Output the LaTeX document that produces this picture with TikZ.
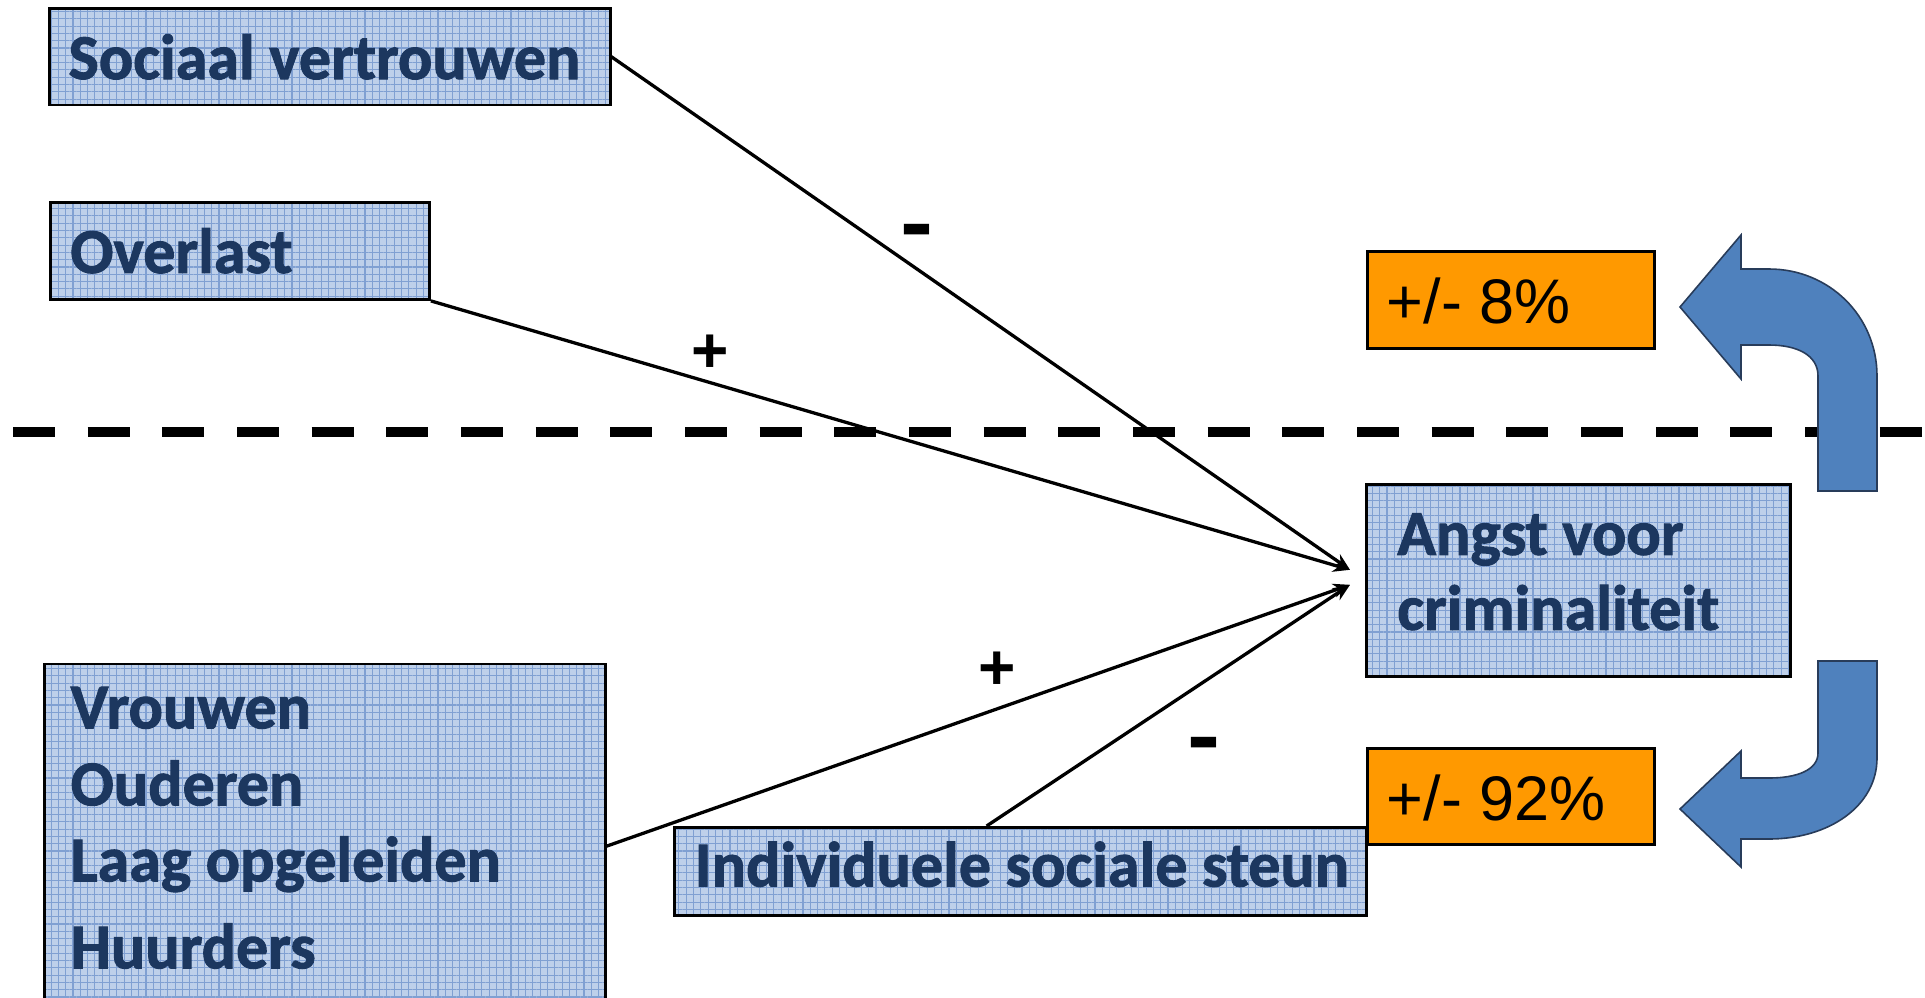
\documentclass[tikz,border=0pt]{standalone}
\usepackage{fontspec}
\usepackage{graphicx}
\usetikzlibrary{positioning}
\usetikzlibrary{arrows.meta,patterns.meta}
\newfontfamily\calfont{Carlito}[BoldFeatures={FakeBold=1.5}]
\newfontfamily\arialfont{Liberation Sans}
\definecolor{boxblue}{RGB}{190,208,234}
\definecolor{gridblue}{RGB}{128,160,210}
\definecolor{textblue}{RGB}{28,55,95}
\definecolor{orangebox}{RGB}{255,153,0}
\definecolor{arrowblue}{RGB}{79,129,189}
\definecolor{arrowline}{RGB}{40,60,90}

\begin{document}
\begin{tikzpicture}[x=1pt,y=-1pt,->,>={Stealth[length=17pt,width=14pt]},
factor/.style={draw=black,line width=2.6pt,preaction={fill=boxblue},pattern={Hatch[distance=7.3pt,line width=1.1pt]},pattern color=gridblue,
  anchor=north west,align=flush left,inner ysep=0pt,text=textblue,font=\calfont\bfseries\fontsize{64pt}{75pt}\selectfont},
share/.style={draw=black,line width=2.6pt,fill=orangebox,anchor=north west,align=flush left,inner xsep=19.5pt,inner ysep=0pt,
  text width=248pt,minimum height=97pt,text depth=0pt,font=\arialfont\fontsize{63pt}{75pt}\selectfont},
sign/.style={font=\arialfont\bfseries\fontsize{64pt}{64pt}\selectfont,text=black},
every edge/.style={draw=black,line width=3.3pt},
bigarrow/.style={-,fill=arrowblue,draw=arrowline,line width=1.6pt}]
\useasboundingbox (0,0) rectangle (1925,997);

\draw[-,line width=10.6pt,dash pattern=on 42pt off 32.67pt] (13,432) -- (1925,432);

\node[factor,inner xsep=19pt,text width=523pt,minimum height=96.6pt,text height=45pt,text depth=0pt] (trust) at (49,7.7) {Sociaal vertrouwen};
\node[factor,inner xsep=20pt,text width=339.3pt,minimum height=97.3pt,text height=44pt,text depth=0pt] (nuisance) at (49,201) {Overlast};
\node[factor,inner xsep=31pt,text width=362pt,minimum height=192pt,text height=40pt,text depth=91pt] (fear) at (1365,483) {Angst voor\\criminaliteit};
\node[factor,inner xsep=26pt,text width=508.7pt,minimum height=364.3pt,text height=40pt,text depth=275.7pt] (groups) at (43.3,662.7)
  {Vrouwen\\[2pt]Ouderen\\[1pt]Laag opgeleiden\\[12pt]Huurders};
\node[factor,inner xsep=20pt,text width=652pt,minimum height=88.3pt,text height=30pt,text depth=0pt] (support) at (673.3,826) {\mbox{Individuele sociale steun}};

\node[share,text height=47pt] (up) at (1366,250) {+/- 8\%};
\node[share,text height=48pt,minimum height=96pt] (down) at (1366,747) {+/- 92\%};

\coordinate (in1) at ([xshift=-15pt,yshift=10.5pt]fear.west);
\coordinate (in2) at ([xshift=-15pt,yshift=-4.5pt]fear.west);

\path (trust.east) edge node[sign,pos=0.414,yshift=31pt]{\scalebox{1.55}[1.38]{-}} (in1)
      (nuisance.south east) edge node[sign,pos=0.304,yshift=29pt]{+} (in1)
      (groups.east) edge node[sign,pos=0.526,yshift=38pt]{+} (in2)
      ([xshift=-34pt]support.north) edge node[sign,pos=0.597,yshift=-69pt]{\scalebox{1.55}[1.38]{-}} (in2);

\draw[bigarrow] (1680,307) -- (1741,235) -- (1741,269) -- (1769,269) .. controls (1829,269) and (1877,316) .. (1877,376)
  -- (1877,491) -- (1818,491) -- (1818,376) .. controls (1818,355) and (1797,345) .. (1769,345) -- (1741,345) -- (1741,379) -- cycle;
\draw[bigarrow] (1818,661) -- (1877,661) -- (1877,758) .. controls (1877,806) and (1829,839) .. (1769,839) -- (1741,839)
  -- (1741,867) -- (1680,809) -- (1741,751) -- (1741,778) -- (1769,778) .. controls (1797,778) and (1818,770) .. (1818,753) -- cycle;
\end{tikzpicture}
\end{document}
